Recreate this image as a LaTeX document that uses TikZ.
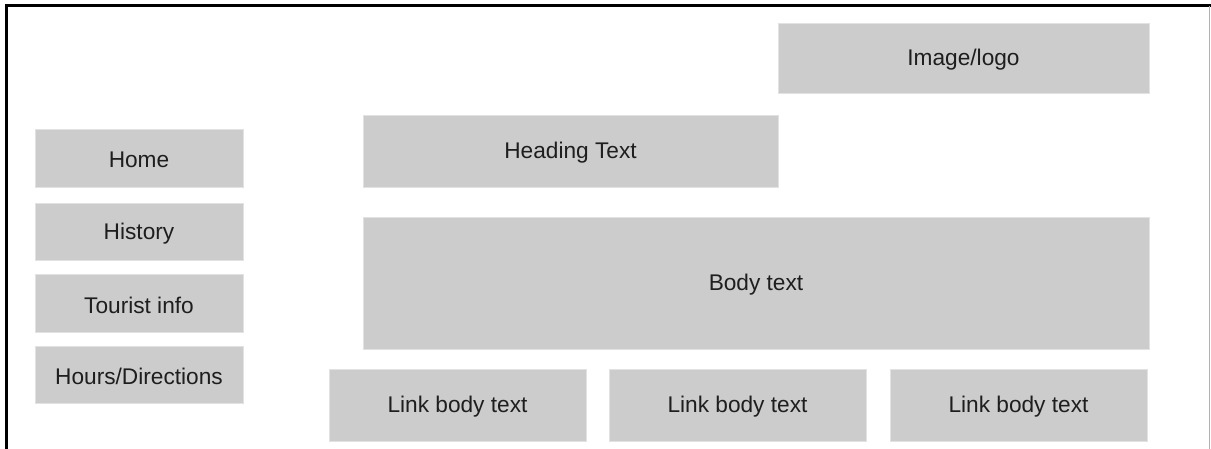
\documentclass[tikz,border=0pt]{standalone}
\usepackage{fontspec}
\setmainfont{Liberation Sans}
\definecolor{boxfill}{HTML}{CCCCCC}
\definecolor{boxedge}{HTML}{E2E2E2}
\definecolor{txt}{HTML}{1E1E1E}
\begin{document}
\begin{tikzpicture}[x=0.75pt,y=-0.75pt,
  blk/.style={fill=boxfill,draw=boxedge,line width=0.6pt,inner sep=0pt,text=txt,font=\fontsize{17}{19}\selectfont},
]
\useasboundingbox (0,0) rectangle (1211,449);
\fill[white] (0,0) rectangle (1211,449);
% frame
\draw[black,line width=1.6pt] (6.5,449) -- (6.5,5.5) -- (1211,5.5);
\draw[black!30,line width=0.6pt] (1209.5,6) -- (1209.5,449);
% helper macro for boxes (text set slightly lower than centre, as in the reference)
\newcommand{\wbox}[6]{%
  \node[blk,minimum width={(#4-#2)*0.75pt},minimum height={(#5-#3)*0.75pt}] (#1) at ({(#2+#4)/2},{(#3+#5)/2}) {\raisebox{-1.5pt}[\height][\depth]{#6}};}
\wbox{logo}{778}{23}{1149}{93}{Image/logo}
\wbox{head}{363}{115}{778}{187}{Heading Text}
\wbox{body}{363}{217}{1149}{349}{Body text}
\wbox{linka}{329}{369}{586}{441}{Link body text}
\wbox{linkb}{609}{369}{866}{441}{Link body text}
\wbox{linkc}{890}{369}{1147}{441}{Link body text}
\wbox{home}{35}{129}{243}{187}{Home}
\wbox{hist}{35}{203}{243}{260}{History}
\wbox{tour}{35}{274}{243}{332}{Tourist info}
\wbox{hours}{35}{346}{243}{403}{Hours/Directions}
\end{tikzpicture}
\end{document}
